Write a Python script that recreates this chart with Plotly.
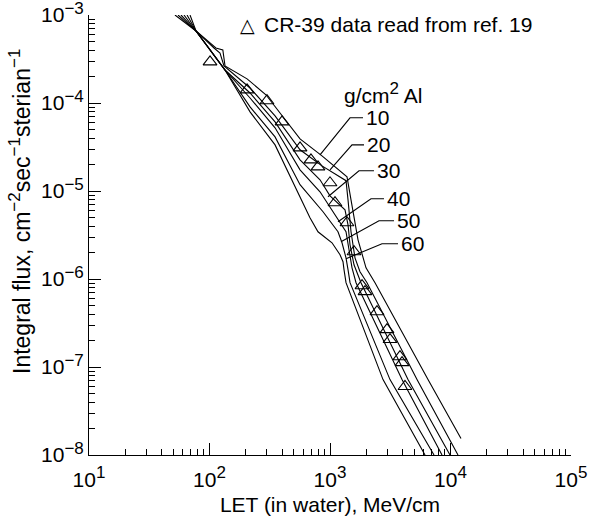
import numpy as np
import plotly.graph_objects as go

# ---- data: LET (MeV/cm in water), integral flux ----
depths = ["10", "20", "30", "40", "50", "60"]   # g/cm2 Al

let_10 = [68.9, 77.3, 113, 129, 134.5, 205, 294, 407, 564, 858, 1384, 1494, 1708, 1990, 2363, 6506, 12220]
flux_10 = [1e-3, 6.58e-4, 4.22e-4, 4.01e-4, 2.64e-4, 1.88e-4, 1.24e-4, 6.96e-5, 3.91e-5, 2.51e-5,
           1.45e-5, 7.94e-6, 2.79e-6, 1.34e-6, 9.08e-7, 7.19e-8, 1.54e-8]

let_20 = [65.1, 77.3, 109, 122.2, 131.9, 217, 350, 564, 858, 1100, 1358, 1411, 1494, 1612, 1774, 2029, 5272, 11540]
flux_20 = [1e-3, 6.58e-4, 4.22e-4, 3.70e-4, 2.64e-4, 1.48e-4, 7.14e-5, 2.94e-5, 1.93e-5, 1.57e-5,
           1.31e-5, 7.94e-6, 3.44e-6, 1.74e-6, 1.21e-6, 9.08e-7, 7.19e-8, 1e-8]

let_30 = [61.4, 77.3, 134.5, 217, 350, 564, 826, 1000, 1332, 1411, 1466, 1582, 1808, 4439, 9906]
flux_30 = [1e-3, 6.58e-4, 2.37e-4, 1.30e-4, 6.10e-5, 2.26e-5, 1.34e-5, 8.82e-6, 6.12e-6, 4.13e-6,
           2.45e-6, 1.45e-6, 9.08e-7, 7.19e-8, 1e-8]

let_40 = [58.0, 77.3, 134.5, 217, 350, 564, 826, 1165, 1358, 1438, 1523, 1644, 3959, 8503]
flux_40 = [1e-3, 6.58e-4, 2.37e-4, 1.14e-4, 5.22e-5, 1.74e-5, 9.79e-6, 4.71e-6, 3.44e-6, 2.15e-6,
           1.34e-6, 9.08e-7, 7.19e-8, 1e-8]

let_50 = [54.8, 77.3, 134.5, 217, 350, 564, 875, 1165, 1258, 1358, 1411, 1466, 3147, 7297]
flux_50 = [1e-3, 6.58e-4, 2.37e-4, 9.03e-5, 4.12e-5, 1.18e-5, 5.81e-6, 3.44e-6, 2.58e-6, 1.74e-6,
           1.28e-6, 9.08e-7, 7.19e-8, 1e-8]

let_60 = [51.7, 77.3, 134.5, 217, 350, 564, 682, 795, 1039, 1211, 1282, 1307, 1358, 2754, 6145]
flux_60 = [1e-3, 6.58e-4, 2.37e-4, 7.93e-5, 3.34e-5, 8.37e-6, 4.96e-6, 3.44e-6, 2.58e-6, 1.89e-6,
           1.57e-6, 1.28e-6, 9.08e-7, 7.19e-8, 1e-8]

# CR-39 measurements
cr39_let = [101, 205, 300, 400, 564, 695, 795, 1000, 1100, 1384, 1582, 1844, 1952, 2455, 2972, 3147,
            3808, 3961, 4190]
cr39_flux = [2.93e-4, 1.41e-4, 1.06e-4, 6.1e-5, 3.09e-5, 2.26e-5, 1.88e-5, 1.24e-5, 7.35e-6, 4.36e-6,
             2.04e-6, 8.39e-7, 7.18e-7, 4.25e-7, 2.66e-7, 2.05e-7, 1.31e-7, 1.12e-7, 6.0e-8]

# points on each curve where the label leader touches
label_let = [826, 1000, 962, 1165, 1234, 1358]
label_flux = [2.58e-5, 1.74e-5, 8.60e-6, 4.47e-6, 2.65e-6, 1.70e-6]

SUP = '<sup><span style="font-size:17px">{}</span></sup>'
x_ticks = [10, 100, 1000, 10000, 100000]
x_ticktext = ["10" + SUP.format(e) for e in ["1", "2", "3", "4", "5"]]
y_ticks = [1e-8, 1e-7, 1e-6, 1e-5, 1e-4, 1e-3]
y_ticktext = ["10" + SUP.format("\u2212" + e) for e in ["8", "7", "6", "5", "4", "3"]]

# ---- layout geometry ----
W, H = 592, 517
ML, MR, MT, MB = 89, 21, 15, 62
PW, PH = W - ML - MR, H - MT - MB
XDEC = PW / 4.0   # pixels per decade
YDEC = PH / 5.0

FONT = "Liberation Sans, Arial, sans-serif"
FS = 21


def px_to_paper(px, py):
    return (px - ML) / PW, (H - MB - py) / PH


fig = go.Figure()
curves = [(let_10, flux_10), (let_20, flux_20), (let_30, flux_30),
          (let_40, flux_40), (let_50, flux_50), (let_60, flux_60)]
for name, (lx, fy) in zip(depths, curves):
    fig.add_trace(go.Scatter(x=lx, y=fy, mode="lines", name=name, showlegend=False,
                             line=dict(color="black", width=1.1)))

fig.add_trace(go.Scatter(x=cr39_let, y=cr39_flux, mode="markers", showlegend=False,
                         name="CR-39 data read from ref. 19",
                         marker=dict(symbol="triangle-up-open", size=12, color="black",
                                     line=dict(width=1.1, color="black"))))

# leaders: diagonal then short horizontal stub, offsets in pixels
leader_dx = [30, 22, 31, 33, 38, 36]
leader_dy = [-37, -25, -26, -23, -21, -15]
stub = [13, 12, 15, 13, 15, 16]
annotations = []
for t, lx, fy, dx, dy, s in zip(depths, label_let, label_flux, leader_dx, leader_dy, stub):
    qx = lx * 10 ** (dx / XDEC)
    qy = fy * 10 ** (-dy / YDEC)
    rx = qx * 10 ** (s / XDEC)
    fig.add_trace(go.Scatter(x=[lx, qx, rx], y=[fy, qy, qy], mode="lines", showlegend=False,
                             hoverinfo="skip", line=dict(color="black", width=1.1)))
    annotations.append(dict(x=np.log10(rx), y=np.log10(qy), xref="x", yref="y", text=t,
                            showarrow=False, xanchor="left", yanchor="middle", xshift=1,
                            font=dict(size=FS, color="black", family=FONT)))

# key for the CR-39 points
kx, ky = px_to_paper(247, 25)
annotations.append(dict(x=kx, y=ky, xref="paper", yref="paper", text="\u25b3", showarrow=False,
                        xanchor="center", yanchor="middle",
                        font=dict(size=19, color="black", family="DejaVu Sans")))
tx, ty = px_to_paper(262, 25)
annotations.append(dict(x=tx, y=ty, xref="paper", yref="paper",
                        text="CR-39 data read from ref. 19", showarrow=False,
                        xanchor="left", yanchor="middle",
                        font=dict(size=FS, color="black", family=FONT)))

gx, gy = px_to_paper(342, 93)
annotations.append(dict(x=gx, y=gy, xref="paper", yref="paper",
                        text="g/cm" + SUP.format("2") + " Al", showarrow=False, xanchor="left",
                        yanchor="middle", font=dict(size=FS, color="black", family=FONT)))
yx, yy = px_to_paper(20, 212)
annotations.append(dict(x=yx, y=yy, xref="paper", yref="paper",
                        text="Integral flux, cm" + SUP.format("\u22122") + "sec" + SUP.format("\u22121")
                             + "sterian" + SUP.format("\u22121"),
                        textangle=-90, showarrow=False, xanchor="center", yanchor="middle",
                        font=dict(size=23, color="black", family=FONT)))

minor_x = [m * 10 ** e for e in range(1, 5) for m in range(2, 10)]
minor_y = [m * 10.0 ** e for e in range(-8, -3) for m in range(2, 10)]

axis_common = dict(type="log", showgrid=False, zeroline=False, showline=True, linecolor="black",
                   linewidth=1, ticks="inside", ticklen=12, tickwidth=1, tickcolor="black",
                   tickfont=dict(size=FS, color="black", family=FONT), mirror=False,
                   ticklabeloverflow="allow", automargin=False)

fig.update_layout(
    width=W, height=H, margin=dict(l=ML, r=MR, t=MT, b=MB, autoexpand=False),
    paper_bgcolor="white", plot_bgcolor="white",
    font=dict(family=FONT, size=FS, color="black"),
    xaxis=dict(range=[1, 5], tickmode="array", tickvals=x_ticks, ticktext=x_ticktext,
               title=dict(text="LET (in water), MeV/cm", font=dict(size=FS), standoff=7),
               minor=dict(tickmode="array", tickvals=minor_x, ticks="inside", ticklen=6,
                          tickcolor="black", showgrid=False),
               ticklabelstandoff=6,
               **axis_common),
    yaxis=dict(range=[-8, -3], tickmode="array", tickvals=y_ticks, ticktext=y_ticktext,
               minor=dict(tickmode="array", tickvals=minor_y, ticks="inside", ticklen=6,
                          tickcolor="black", showgrid=False),
               **axis_common),
    showlegend=False,
    annotations=annotations,
)

fig.write_html("out.html")
